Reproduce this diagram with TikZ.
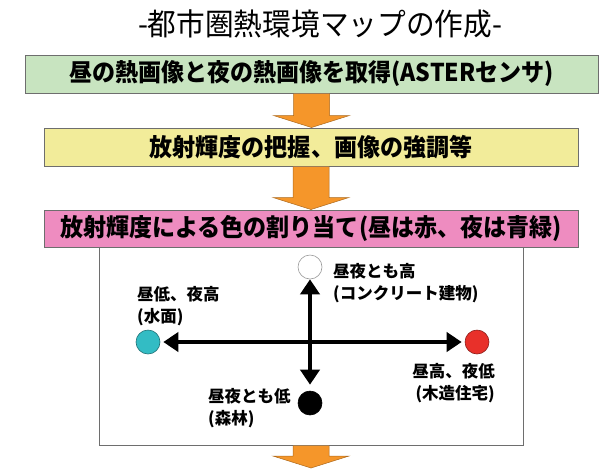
\documentclass[tikz,border=0pt]{standalone}
\usepackage{fontspec}
\setmainfont{Noto Sans CJK JP}
\usetikzlibrary{arrows.meta,calc}

\definecolor{boxgreen}{HTML}{C8E4C0}
\definecolor{boxyellow}{HTML}{F2EC9A}
\definecolor{boxpink}{HTML}{EE8CC0}
\definecolor{arrorange}{HTML}{F5962A}
\definecolor{dotcyan}{HTML}{33BCC4}
\definecolor{dotred}{HTML}{E8302A}
\definecolor{edgegray}{HTML}{6E6E6E}

% orange block arrow from (#1) down to (#2)
\newcommand{\flowarrow}[2]{%
  \fill[arrorange] let \p1=(#1), \p2=(#2) in
    (\x1-18pt,\y1) -- (\x1+18pt,\y1) -- (\x1+18pt,\y2+12pt) -- (\x1+38pt,\y2+12pt)
    -- (\x1,\y2) -- (\x1-38pt,\y2+12pt) -- (\x1-18pt,\y2+12pt) -- cycle;
  \draw[arrorange!70!black, line width=0.5pt] let \p1=(#1), \p2=(#2) in
    (\x1+18pt,\y1) -- (\x1+18pt,\y2+12pt) -- (\x1+38pt,\y2+12pt)
    -- (\x1,\y2) -- (\x1-38pt,\y2+12pt) -- (\x1-18pt,\y2+12pt) -- (\x1-18pt,\y1);}
% slightly condensed text
\newcommand{\narrowtxt}[2]{\scalebox{#1}[1]{#2}}

\begin{document}
\begin{tikzpicture}[x=1pt,y=-1pt,
	stagebox/.style={draw=edgegray, line width=1pt, minimum height=38pt, inner sep=0pt,
		font=\fontsize{24.5}{26}\selectfont\bfseries},
	dot/.style={circle, draw=#1!60!black, fill=#1, minimum size=24pt, inner sep=0pt, line width=0.6pt},
	pointlbl/.style={font=\fontsize{16.5}{22}\selectfont\bfseries, inner sep=0pt},
	axis/.style={line width=4.5pt, {Triangle[length=15pt,width=19pt]}-{Triangle[length=15pt,width=19pt]}}]
	\useasboundingbox (0,0) rectangle (612,475);
	\node[font=\fontsize{30.5}{32}\selectfont] (title) at (320,24) {\narrowtxt{0.94}{-都市圏熱環境マップの作成-}};
	% steps
	\node[draw=edgegray, fill=white, line width=1pt, minimum width=424pt, minimum height=198pt, inner sep=0pt] (panel) at (311,346) {};
	\node[stagebox, fill=boxgreen, minimum width=573pt] (acquire) at (311.5,74) {\narrowtxt{0.94}{昼の熱画像と夜の熱画像を取得(ASTERセンサ)}};
	\node[stagebox, fill=boxyellow, minimum width=534pt] (enhance) at (311,147) {\narrowtxt{0.94}{放射輝度の把握、画像の強調等}};
	\node[stagebox, fill=boxpink, minimum width=534pt, minimum height=37pt] (colour) at (311,228.5) {\narrowtxt{0.94}{放射輝度による色の割り当て(昼は赤、夜は青緑)}};
	\coordinate (next) at (311,468);
	\flowarrow{acquire.south}{enhance.north}
	\flowarrow{enhance.south}{colour.north}
	\flowarrow{panel.south}{next}
	% colour map
	\node[dot=white] (bothhigh) at (310,267) {};
	\node[dot=black] (bothlow) at (310,403) {};
	\node[dot=dotcyan] (daylow) at (148,342) {};
	\node[dot=dotred] (dayhigh) at (477,342) {};
	\draw[axis, shorten <=3pt, shorten >=3pt] (daylow) -- (dayhigh);
	\draw[axis, shorten >=6pt] (bothhigh) -- (bothlow);
	\node[pointlbl, anchor=north west, align=left] (concrete) at (333,263) {昼夜とも高\\(コンクリート建物)};
	\node[pointlbl, anchor=north west, align=left] (water) at (137,286) {昼低、夜高\\(水面)};
	\node[pointlbl, anchor=north west, align=left] (forest) at (208,388) {昼夜とも低\\(森林)};
	\node[pointlbl, anchor=north east, align=right] (wood) at (495,363) {昼高、夜低\\(木造住宅)};
\end{tikzpicture}
\end{document}
